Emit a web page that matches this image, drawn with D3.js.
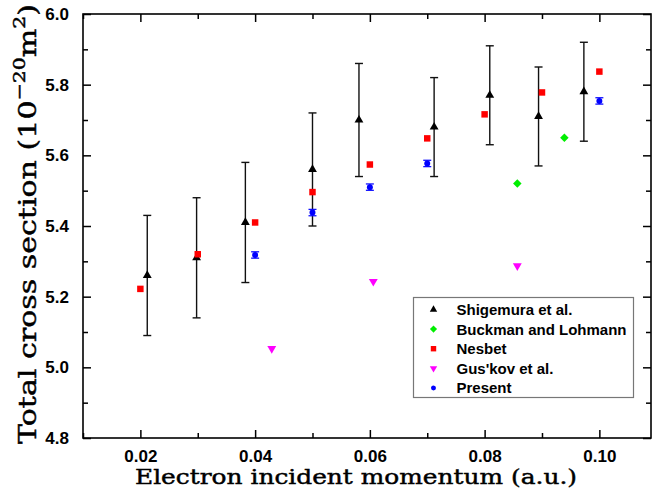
<!DOCTYPE html>
<html>
<head>
<meta charset="utf-8">
<style>
body { margin: 0; background: #fff; }
svg { display: block; }
.tick text { font: bold 17px "Liberation Sans", Arial, sans-serif; }
.title { fill: #000; stroke: #000; stroke-width: 0.45; }
</style>
</head>
<body>
<svg width="652" height="495"></svg>
<script src="https://cdn.jsdelivr.net/npm/d3@7"></script>
<script>

// Shigemura et al. (with error bars)
var shigX = [0.0212, 0.0298, 0.0383, 0.0500, 0.0581, 0.0712, 0.0809, 0.0894, 0.0973],
    shigY = [5.26, 5.31, 5.41, 5.56, 5.70, 5.68, 5.77, 5.71, 5.78],
    shigErr = [0.17, 0.17, 0.17, 0.16, 0.16, 0.14, 0.14, 0.14, 0.14];

// Buckman and Lohmann
var buckX = [0.0857, 0.0939],
    buckY = [5.52, 5.65];

// Nesbet
var nesX = [0.02, 0.03, 0.04, 0.05, 0.06, 0.07, 0.08, 0.09, 0.10],
    nesY = [5.222, 5.320, 5.410, 5.496, 5.574, 5.648, 5.716, 5.778, 5.837];

// Gus'kov et al.
var gusX = [0.0429, 0.0606, 0.0857],
    gusY = [5.053, 5.243, 5.287];

// Present
var presX = [0.04, 0.05, 0.06, 0.07, 0.10],
    presY = [5.318, 5.438, 5.510, 5.577, 5.754],
    presErr = [0.009, 0.009, 0.009, 0.009, 0.009];

var xTicks = [0.02, 0.04, 0.06, 0.08, 0.10],
    yTicks = [4.8, 5.0, 5.2, 5.4, 5.6, 5.8, 6.0];

var legendNames = ["Shigemura et al.", "Buckman and Lohmann", "Nesbet", "Gus'kov et al.", "Present"];

var svg = d3.select("svg");

var x = d3.scaleLinear().domain([0.01, 0.109]).range([83, 651]),
    y = d3.scaleLinear().domain([4.8, 6.0]).range([438, 14]);

var zip = function(xs, ys, es) {
  return xs.map(function(v, i) { return {x: v, y: ys[i], e: es ? es[i] : 0}; });
};

// minor ticks
var xMinor = [0.01, 0.03, 0.05, 0.07, 0.09],
    yMinor = [4.9, 5.1, 5.3, 5.5, 5.7, 5.9];

function axisStyle(g) {
  g.select(".domain").remove();
  g.selectAll(".tick line").attr("stroke", "#000").attr("stroke-width", 1.5);
}

// bottom
svg.append("g").attr("transform", "translate(0,438)")
    .call(d3.axisBottom(x).tickValues(xTicks).tickSizeInner(-8).tickSizeOuter(0).tickPadding(12).tickFormat(d3.format(".2f")))
    .call(axisStyle);
svg.append("g").attr("transform", "translate(0,438)")
    .call(d3.axisBottom(x).tickValues(xMinor).tickSize(-5).tickFormat(""))
    .call(axisStyle);
// top
svg.append("g").attr("transform", "translate(0,14)")
    .call(d3.axisTop(x).tickValues(xTicks).tickSize(-8).tickFormat(""))
    .call(axisStyle);
svg.append("g").attr("transform", "translate(0,14)")
    .call(d3.axisTop(x).tickValues(xMinor).tickSize(-5).tickFormat(""))
    .call(axisStyle);
// left
svg.append("g").attr("transform", "translate(83,0)")
    .call(d3.axisLeft(y).tickValues(yTicks).tickSizeInner(-8).tickSizeOuter(0).tickPadding(14).tickFormat(d3.format(".1f")))
    .call(axisStyle);
svg.append("g").attr("transform", "translate(83,0)")
    .call(d3.axisLeft(y).tickValues(yMinor).tickSize(-5).tickFormat(""))
    .call(axisStyle);
// right
svg.append("g").attr("transform", "translate(651,0)")
    .call(d3.axisRight(y).tickValues(yTicks).tickSize(-8).tickFormat(""))
    .call(axisStyle);
svg.append("g").attr("transform", "translate(651,0)")
    .call(d3.axisRight(y).tickValues(yMinor).tickSize(-5).tickFormat(""))
    .call(axisStyle);

svg.selectAll(".tick text").attr("fill", "#000");

// frame
svg.append("rect")
    .attr("x", x.range()[0]).attr("y", y.range()[1])
    .attr("width", x.range()[1] - x.range()[0])
    .attr("height", y.range()[0] - y.range()[1])
    .attr("fill", "none").attr("stroke", "#000").attr("stroke-width", 1.6);

// error bars
function errorBars(data, color, cap, width) {
  var g = svg.append("g").attr("stroke", color).attr("stroke-width", width).attr("fill", "none");
  data.forEach(function(d) {
    var cx = x(d.x), y0 = y(d.y - d.e), y1 = y(d.y + d.e);
    g.append("line").attr("x1", cx).attr("x2", cx).attr("y1", y0).attr("y2", y1);
    g.append("line").attr("x1", cx - cap).attr("x2", cx + cap).attr("y1", y0).attr("y2", y0);
    g.append("line").attr("x1", cx - cap).attr("x2", cx + cap).attr("y1", y1).attr("y2", y1);
  });
}

var shig = zip(shigX, shigY, shigErr),
    pres = zip(presX, presY, presErr);

errorBars(shig, "#111", 4, 1.4);
errorBars(pres, "#1010ff", 4, 1.3);

var symbols = [
  {data: shig, type: d3.symbolTriangle, size: 34, color: "#000", rot: 0},
  {data: zip(buckX, buckY), type: d3.symbolSquare, size: 36, color: "#00ee00", rot: 45},
  {data: zip(nesX, nesY), type: d3.symbolSquare, size: 42, color: "#ff0000", rot: 0},
  {data: zip(gusX, gusY), type: d3.symbolTriangle, size: 34, color: "#ff00ff", rot: 180},
  {data: pres, type: d3.symbolCircle, size: 28, color: "#0000ff", rot: 0}
];

symbols.forEach(function(s) {
  svg.append("g").selectAll("path")
    .data(s.data)
    .enter().append("path")
      .attr("d", d3.symbol().type(s.type).size(s.size))
      .attr("transform", function(d) { return "translate(" + x(d.x) + "," + y(d.y) + ") rotate(" + s.rot + ")"; })
      .attr("fill", s.color);
});

// legend
var legend = svg.append("g").attr("transform", "translate(413.5,297.5)");
legend.append("rect")
    .attr("width", 220).attr("height", 100)
    .attr("fill", "#fff").attr("stroke", "#777").attr("stroke-width", 1.2);

legendNames.forEach(function(name, i) {
  var s = symbols[i], ly = 12 + i * 19.6;
  legend.append("path")
      .attr("d", d3.symbol().type(s.type).size(s.size * 0.7))
      .attr("transform", "translate(20," + ly + ") rotate(" + s.rot + ")")
      .attr("fill", s.color);
  legend.append("text")
      .attr("x", 43).attr("y", ly + 5.5)
      .style("font", "bold 15px 'Liberation Sans', Arial, sans-serif")
      .text(name);
});

// axis titles
svg.append("text")
    .attr("class", "title")
    .attr("x", 135).attr("y", 484)
    .attr("textLength", 442).attr("lengthAdjust", "spacingAndGlyphs")
    .style("font", "20px 'DejaVu Serif', serif")
    .text("Electron incident momentum (a.u.)");

var yt = svg.append("text")
    .attr("class", "title")
    .attr("transform", "translate(36,444) rotate(-90)")
    .attr("textLength", 440).attr("lengthAdjust", "spacingAndGlyphs")
    .style("font", "25px 'DejaVu Serif', serif");
yt.append("tspan").text("Total cross section (10");
yt.append("tspan").attr("dy", -11).style("font-size", "17px").text("\u221220");
yt.append("tspan").attr("dy", 11).text("m");
yt.append("tspan").attr("dy", -11).style("font-size", "17px").text("2");
yt.append("tspan").attr("dy", 11).text(")");

</script>
</body>
</html>
